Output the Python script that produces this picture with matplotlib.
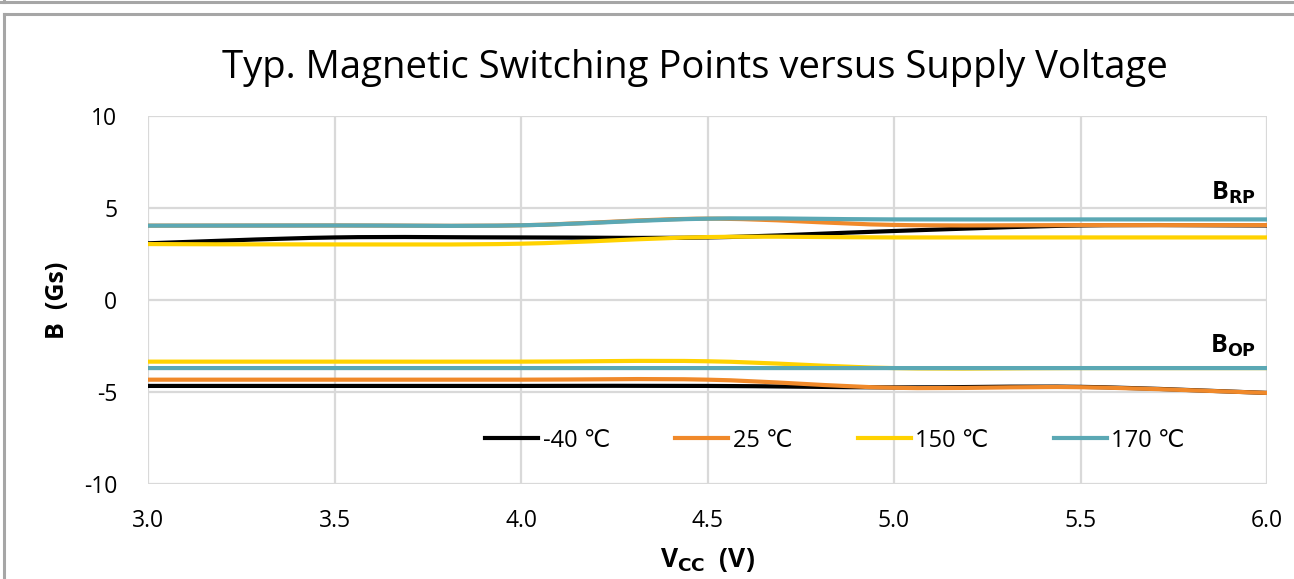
import matplotlib
matplotlib.use("Agg")
import matplotlib.pyplot as plt
from matplotlib.path import Path
from matplotlib.patches import PathPatch
from matplotlib.lines import Line2D
import numpy as np

plt.rcParams['font.family'] = ['Open Sans', 'DejaVu Sans']
plt.rcParams['axes.unicode_minus'] = False

vcc = [3.0, 3.5, 4.0, 4.5, 5.0, 5.5, 6.0]
series_names = ["-40 \u2103", "25 \u2103", "150 \u2103", "170 \u2103"]
colors = ["#000000", "#F0892A", "#FFD200", "#5BA8B4"]

brp_m40 = [3.08, 3.4, 3.4, 3.4, 3.75, 4.05, 4.05]
brp_25 = [4.04, 4.05, 4.06, 4.42, 4.08, 4.07, 4.07]
brp_150 = [3.04, 3.02, 3.06, 3.42, 3.4, 3.4, 3.4]
brp_170 = [4.04, 4.05, 4.06, 4.42, 4.38, 4.38, 4.38]

bop_m40 = [-4.67, -4.67, -4.67, -4.67, -4.75, -4.72, -5.05]
bop_25 = [-4.33, -4.33, -4.33, -4.33, -4.77, -4.74, -5.05]
bop_150 = [-3.35, -3.35, -3.35, -3.33, -3.7, -3.7, -3.7]
bop_170 = [-3.7, -3.7, -3.7, -3.7, -3.7, -3.7, -3.7]

yticks = [-10, -5, 0, 5, 10]
xticks = [3.0, 3.5, 4.0, 4.5, 5.0, 5.5, 6.0]


def smooth_path(x, y):
    # Excel-style smoothed line: cubic Bezier segments through the data points
    x = np.asarray(x, float)
    y = np.asarray(y, float)
    n = len(x)
    verts = [(x[0], y[0])]
    codes = [Path.MOVETO]
    for i in range(n - 1):
        x0, y0 = (x[i - 1], y[i - 1]) if i > 0 else (x[i], y[i])
        x3, y3 = (x[i + 2], y[i + 2]) if i + 2 < n else (x[i + 1], y[i + 1])
        c1 = (x[i] + (x[i + 1] - x0) / 6.0, y[i] + (y[i + 1] - y0) / 6.0)
        c2 = (x[i + 1] - (x3 - x[i]) / 6.0, y[i + 1] - (y3 - y[i]) / 6.0)
        verts += [c1, c2, (x[i + 1], y[i + 1])]
        codes += [Path.CURVE4] * 3
    return Path(verts, codes)


fig = plt.figure(figsize=(12.94, 5.79), dpi=100)
ax = fig.add_axes([148 / 1294, 95 / 579, 1119 / 1294, 368 / 579])

groups = [
    (brp_m40, bop_m40),
    (brp_25, bop_25),
    (brp_150, bop_150),
    (brp_170, bop_170),
]
for (brp, bop), c in zip(groups, colors):
    for vals in (brp, bop):
        ax.add_patch(PathPatch(smooth_path(vcc, vals), fill=False,
                               edgecolor=c, lw=3.0, capstyle='round',
                               joinstyle='round', zorder=3))

ax.set_xlim(3.0, 6.0)
ax.set_ylim(-10, 10)
ax.set_xticks(xticks)
ax.set_xticklabels([f"{v:.1f}" for v in xticks])
ax.set_yticks(yticks)
ax.set_yticklabels([str(v) for v in yticks])
ax.tick_params(axis='both', length=0, labelsize=16.5, colors='#000000')
ax.tick_params(axis='y', pad=22)
ax.tick_params(axis='x', pad=18)
ax.grid(True, color='#D9D9D9', lw=1.6)
ax.set_axisbelow(True)
for s in ax.spines.values():
    s.set_visible(False)

ax.set_ylabel("B  (Gs)", fontsize=18, fontweight='bold', labelpad=10)
ax.set_xlabel(r"V$_{\mathbf{CC}}$  (V)", fontsize=19, fontweight='bold', labelpad=9)

ax.text(5.97, 5.1, r"B$_{\mathbf{RP}}$", fontsize=18, fontweight='bold',
        ha='right', va='bottom')
ax.text(5.97, -3.2, r"B$_{\mathbf{OP}}$", fontsize=18, fontweight='bold',
        ha='right', va='bottom')

handles = [Line2D([0], [0], color=c, lw=3.0) for c in colors]
ax.legend(handles, series_names, ncol=4, loc='center',
          bbox_to_anchor=(0.614, 0.118), frameon=False, fontsize=17,
          handlelength=2.25, handletextpad=0.2, columnspacing=2.75)

fig.text(695 / 1294, 1 - 68 / 579, "Typ. Magnetic Switching Points versus Supply Voltage",
         fontsize=27.5, ha='center', va='center')

# outer chart frames
fig.add_artist(Line2D([0, 1], [1 - 1.5 / 579, 1 - 1.5 / 579], color='#A6A6A6', lw=2.2,
                      transform=fig.transFigure))
fig.add_artist(Line2D([4 / 1294, 1], [1 - 13.5 / 579, 1 - 13.5 / 579], color='#A6A6A6', lw=2.2,
                      transform=fig.transFigure))
fig.add_artist(Line2D([4 / 1294, 4 / 1294], [0, 1 - 13.5 / 579], color='#A6A6A6', lw=2.2,
                      transform=fig.transFigure))
fig.add_artist(Line2D([4 / 1294, 4 / 1294], [1 - 1.5 / 579, 1], color='#A6A6A6', lw=2.2,
                      transform=fig.transFigure))

fig.savefig("out.png", dpi=100)
